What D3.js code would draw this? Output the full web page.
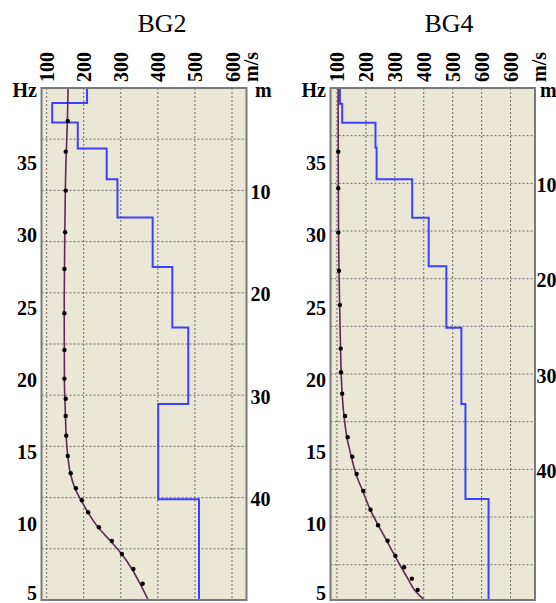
<!DOCTYPE html>
<html>
<head>
<meta charset="utf-8">
<script src="https://cdn.jsdelivr.net/npm/d3@7"></script>
<style>
  html, body { margin: 0; padding: 0; background: #ffffff; }
  svg { display: block; }
  text { font-family: "Liberation Serif", "Times New Roman", serif; fill: #000; }
</style>
</head>
<body>
<svg id="chart" width="556" height="603"></svg>
<script>
// ---------------- DATA ----------------
const panelTitles = ["BG2", "BG4"];
const hzTicks = [5, 10, 15, 20, 25, 30, 35];
const depthTicks = [10, 20, 30, 40];

// velocity tick values and labels (top axis)
const bg2VelTicks = [100, 200, 300, 400, 500, 600];
const bg2VelLabels = ["100", "200", "300", "400", "500", "600"];
const bg4VelTicks = [100, 200, 300, 400, 500, 600, 700];
const bg4VelLabels = ["100", "200", "300", "400", "500", "600", "600"];

// Shear-wave velocity profiles (layer top depth in m, velocity in m/s)
const bg2LayerTop = [0, 1.47, 3.36, 5.9, 8.9, 12.65, 17.47, 23.4, 30.85, 40.15];
const bg2LayerVs  = [209, 115, 184, 262, 291, 386, 439, 482, 401, 511];
const bg4LayerTop = [0, 1.65, 3.65, 6.25, 9.58, 13.6, 18.7, 25.15, 33.14, 43.1];
const bg4LayerVs  = [110, 118, 233, 237, 360, 417, 478, 530, 544, 624];

// Observed dispersion points (frequency Hz, phase velocity m/s)
const bg2ObsHz = [38.0, 35.87, 33.17, 30.28, 27.74, 24.67, 22.13, 20.14, 18.75, 17.55, 16.19, 14.78, 13.58, 12.54, 11.71, 10.88, 9.84, 8.89, 7.99, 6.95, 5.93];
const bg2ObsV  = [157, 151.5, 151.5, 150, 148, 148, 148, 148, 151.5, 151.5, 153, 157, 165, 179, 195, 212, 241, 276, 303, 334, 359];
const bg4ObsHz = [35.87, 33.33, 30.26, 27.62, 25.25, 22.22, 20.58, 19.1, 17.55, 16.08, 14.73, 13.53, 12.36, 11.06, 9.98, 8.91, 7.85, 7.07, 6.28, 5.5];
const bg4ObsV  = [104.5, 104.5, 104.5, 107, 110, 113, 114, 118, 128, 137, 153, 168, 191, 216, 242, 275, 302, 332, 359, 379];

// Theoretical dispersion curves
const bg2FitHz = [40.28, 38, 35, 30, 25, 20, 17.5, 16, 14.8, 13.6, 12.5, 11.7, 10.9, 9.8, 8.9, 8, 6.95, 5.93, 4.8];
const bg2FitV  = [158, 156, 152, 149, 147.5, 148, 151, 153, 157, 164, 177, 193, 211, 240, 272, 302, 330, 352, 374];
const bg4FitHz = [40.28, 35, 30, 27, 25, 22, 20, 18, 16, 14.7, 13.5, 12.4, 11.1, 10, 8.9, 7.85, 7.07, 6.28, 5.5, 4.8];
const bg4FitV  = [104, 104.5, 105.5, 107.5, 109.5, 112.5, 115.5, 122, 135, 150, 166, 188, 214, 242, 272, 300, 322, 345, 368, 402];

// ---------------- LAYOUT ----------------
const panels = [
  { title: panelTitles[0], titleX: 162, x0: 41.5, x1: 246.5, vDom: [86.2, 639.1], dDom: [0, 50],
    velTicks: bg2VelTicks, velLabels: bg2VelLabels, layerTop: bg2LayerTop, layerVs: bg2LayerVs,
    obsHz: bg2ObsHz, obsV: bg2ObsV, fitHz: bg2FitHz, fitV: bg2FitV,
    rightPad: 4, mDx: 8.5, msDx: 4.5 },
  { title: panelTitles[1], titleX: 449, x0: 330.5, x1: 535, vDom: [77.6, 784.5], dDom: [0, 53.7],
    velTicks: bg4VelTicks, velLabels: bg4VelLabels, layerTop: bg4LayerTop, layerVs: bg4LayerVs,
    obsHz: bg4ObsHz, obsV: bg4ObsV, fitHz: bg4FitHz, fitV: bg4FitV,
    rightPad: 1.5, mDx: 5, msDx: 3.5 }
];
const plotTop = 88, plotBottom = 600;
const hzDom = [4.8, 40.28];

const svg = d3.select("#chart");

panels.forEach(p => {
  const g = svg.append("g");
  const x = d3.scaleLinear().domain(p.vDom).range([p.x0, p.x1]);
  const yHz = d3.scaleLinear().domain(hzDom).range([plotBottom, plotTop]);
  const yD = d3.scaleLinear().domain(p.dDom).range([plotTop, plotBottom]);

  // background
  g.append("rect").attr("x", p.x0).attr("y", plotTop)
    .attr("width", p.x1 - p.x0).attr("height", plotBottom - plotTop)
    .attr("fill", "#ebe7d7");

  // grid (vertical by velocity, horizontal by depth every 5 m)
  g.append("g").selectAll("line").data(p.velTicks).join("line")
    .attr("x1", d => x(d)).attr("x2", d => x(d))
    .attr("y1", plotTop).attr("y2", plotBottom)
    .attr("stroke", "#6a6a6a").attr("stroke-width", 1).attr("stroke-dasharray", "2,2");
  const gridH = d3.range(5, p.dDom[1], 5);
  g.append("g").selectAll("line").data(gridH).join("line")
    .attr("x1", p.x0).attr("x2", p.x1)
    .attr("y1", d => yD(d)).attr("y2", d => yD(d))
    .attr("stroke", "#6a6a6a").attr("stroke-width", 1).attr("stroke-dasharray", "2,2");

  // Vs profile (blue step line)
  const prof = [];
  p.layerTop.forEach((d, i) => {
    const dBot = i < p.layerTop.length - 1 ? p.layerTop[i + 1] : p.dDom[1];
    prof.push([p.layerVs[i], d]);
    prof.push([p.layerVs[i], dBot]);
  });
  g.append("path").datum(prof)
    .attr("d", d3.line().x(d => x(d[0])).y(d => yD(d[1])))
    .attr("fill", "none").attr("stroke", "#3f3fff").attr("stroke-width", 2);

  // theoretical dispersion curve
  const fit = p.fitHz.map((f, i) => [p.fitV[i], f]);
  g.append("path").datum(fit)
    .attr("d", d3.line().x(d => x(d[0])).y(d => yHz(d[1])).curve(d3.curveMonotoneY))
    .attr("fill", "none").attr("stroke", "#5e2a58").attr("stroke-width", 1.6);

  // observed points
  const obs = p.obsHz.map((f, i) => [p.obsV[i], f]);
  g.append("g").selectAll("circle").data(obs).join("circle")
    .attr("cx", d => x(d[0])).attr("cy", d => yHz(d[1])).attr("r", 2.2)
    .attr("fill", "#000");

  // frame
  g.append("rect").attr("x", p.x0).attr("y", plotTop)
    .attr("width", p.x1 - p.x0).attr("height", plotBottom - plotTop)
    .attr("fill", "none").attr("stroke", "#7a7a7a").attr("stroke-width", 2);

  // top axis (velocity), rotated labels
  const ax = g.append("g").attr("transform", `translate(0,${plotTop})`)
    .call(d3.axisTop(x).tickValues(p.velTicks).tickFormat((d, i) => p.velLabels[i]).tickSize(0));
  ax.select(".domain").remove();
  ax.selectAll("text")
    .attr("x", 0).attr("y", 0).attr("dy", null)
    .attr("text-anchor", "start")
    .attr("transform", "translate(7,-6) rotate(-90)")
    .style("font-family", "'Liberation Serif', serif")
    .style("font-size", "20px").style("font-weight", "bold").attr("fill", "#000");
  g.append("text")
    .attr("transform", `translate(${p.x1 + p.msDx + 7},${plotTop - 6}) rotate(-90)`)
    .attr("text-anchor", "start")
    .style("font-size", "20px").style("font-weight", "bold").text("m/s");

  // left axis (frequency)
  const ay = g.append("g").attr("transform", `translate(${p.x0},0)`)
    .call(d3.axisLeft(yHz).tickValues(hzTicks).tickSize(0).tickPadding(4.5));
  ay.select(".domain").remove();
  ay.selectAll("text")
    .attr("dy", "0.33em").attr("y", d => d === hzTicks[0] ? -4 : -1)
    .style("font-family", "'Liberation Serif', serif")
    .style("font-size", "20px").style("font-weight", "bold").attr("fill", "#000");
  g.append("text").attr("x", p.x0 - 4.5).attr("y", plotTop + 9)
    .attr("text-anchor", "end")
    .style("font-size", "20px").style("font-weight", "bold").text("Hz");

  // right axis (depth)
  const ad = g.append("g").attr("transform", `translate(${p.x1},0)`)
    .call(d3.axisRight(yD).tickValues(depthTicks).tickSize(0).tickPadding(p.rightPad));
  ad.select(".domain").remove();
  ad.selectAll("text")
    .attr("dy", "0.33em").attr("y", 1.5)
    .style("font-family", "'Liberation Serif', serif")
    .style("font-size", "20px").style("font-weight", "bold").attr("fill", "#000");
  g.append("text").attr("x", p.x1 + p.mDx).attr("y", plotTop + 9)
    .attr("text-anchor", "start")
    .style("font-size", "20px").style("font-weight", "bold").text("m");

  // title
  g.append("text").attr("x", p.titleX).attr("y", 32)
    .attr("text-anchor", "middle")
    .style("font-size", "26px").text(p.title);
});
</script>
</body>
</html>
